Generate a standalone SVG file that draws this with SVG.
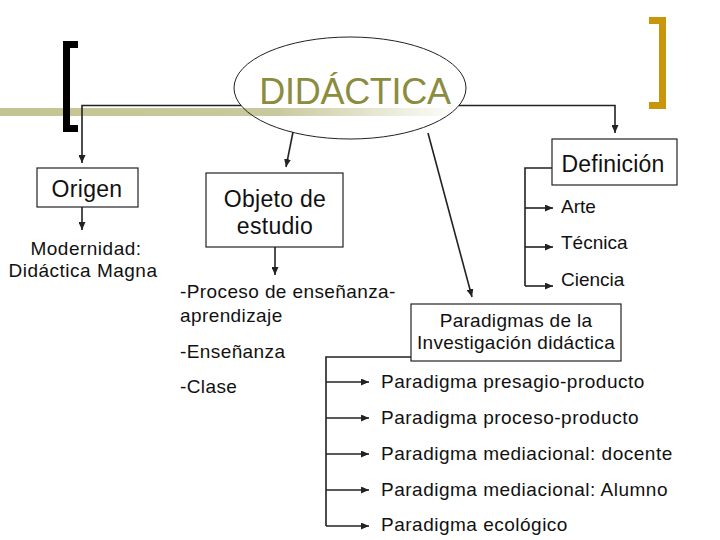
<svg xmlns="http://www.w3.org/2000/svg" width="720" height="540" viewBox="0 0 720 540">
<defs>
<linearGradient id="bar" x1="0" y1="0" x2="460" y2="0" gradientUnits="userSpaceOnUse">
<stop offset="0" stop-color="#c4c492"/>
<stop offset="0.6" stop-color="#c9c99e"/>
<stop offset="1" stop-color="#ffffff"/>
</linearGradient>
<marker id="ah" markerUnits="userSpaceOnUse" markerWidth="9" markerHeight="7" refX="8" refY="3.5" orient="auto">
<path d="M0,0 L8,3.5 L0,7 z" fill="#222"/>
</marker>
<style>
text{font-family:"Liberation Sans",Arial,sans-serif;fill:#111;}
.big{font-size:23px;letter-spacing:0.3px;}
.mid{font-size:19px;letter-spacing:0.5px;}
.sm{font-size:19px;}
.box{fill:#fff;stroke:#222;stroke-width:1.2;}
.c{fill:none;stroke:#222;stroke-width:1.6;}
</style>
</defs>
<rect width="720" height="540" fill="#fff"/>
<rect x="0" y="108" width="460" height="8" fill="url(#bar)"/>
<path d="M78 44.5 H66.5 V128.5 H78" fill="none" stroke="#000" stroke-width="7"/>
<path d="M649 20.5 H662.5 V105.5 H649" fill="none" stroke="#c8960c" stroke-width="7"/>

<g id="connectors">
<path class="c" d="M241 105.5 H82 V163" marker-end="url(#ah)"/>
<path class="c" d="M459 105.5 H615 V133" marker-end="url(#ah)"/>
<path class="c" d="M293 132 L286 167" marker-end="url(#ah)"/>
<path class="c" d="M428 133 L472 297" marker-end="url(#ah)"/>
<path class="c" d="M82 207 V230" marker-end="url(#ah)"/>
<path class="c" d="M275 247 V275" marker-end="url(#ah)"/>
<path class="c" d="M552 168 H525 V286"/>
<path class="c" d="M525 208 H553" marker-end="url(#ah)"/>
<path class="c" d="M525 247 H553" marker-end="url(#ah)"/>
<path class="c" d="M525 286 H553" marker-end="url(#ah)"/>
<path class="c" d="M411 357 H326 V526"/>
<path class="c" d="M326 382 H369" marker-end="url(#ah)"/>
<path class="c" d="M326 418 H369" marker-end="url(#ah)"/>
<path class="c" d="M326 454 H369" marker-end="url(#ah)"/>
<path class="c" d="M326 490 H369" marker-end="url(#ah)"/>
<path class="c" d="M326 526 H369" marker-end="url(#ah)"/>
</g>

<g id="didactica">
<ellipse cx="350" cy="88" rx="116" ry="51" fill="none" stroke="#222" stroke-width="1"/>
<text x="355" y="104" text-anchor="middle" style="font-size:36px;fill:#8c8c3e;letter-spacing:-0.3px">DIDÁCTICA</text>
</g>

<g id="origen">
<rect class="box" x="37" y="168" width="101" height="39"/>
<text class="big" x="87" y="197" text-anchor="middle">Origen</text>
</g>
<g id="modernidad">
<text class="mid" x="86" y="255" text-anchor="middle">Modernidad:</text>
<text class="mid" x="83" y="277" text-anchor="middle">Didáctica Magna</text>
</g>

<g id="objeto">
<rect class="box" x="206" y="173" width="137" height="74"/>
<text class="big" x="275" y="207" text-anchor="middle">Objeto de</text>
<text class="big" x="275" y="234" text-anchor="middle">estudio</text>
</g>
<g id="objeto-items">
<text class="sm" x="180" y="298" style="letter-spacing:0.4px">-Proceso de enseñanza-</text>
<text class="sm" x="180" y="322" style="letter-spacing:0.4px">aprendizaje</text>
<text class="sm" x="180" y="358" style="letter-spacing:0.4px">-Enseñanza</text>
<text class="sm" x="180" y="393" style="letter-spacing:0.4px">-Clase</text>
</g>

<g id="definicion">
<rect class="box" x="552" y="139" width="125" height="46"/>
<text class="big" x="613" y="172" text-anchor="middle" style="letter-spacing:0.2px">Definición</text>
</g>
<g id="definicion-items">
<text class="sm" x="561" y="213">Arte</text>
<text class="sm" x="561" y="249">Técnica</text>
<text class="sm" x="561" y="286">Ciencia</text>
</g>

<g id="paradigmas">
<rect class="box" x="411" y="304" width="210" height="57"/>
<text class="sm" x="516" y="327" text-anchor="middle" style="letter-spacing:0.3px">Paradigmas de la</text>
<text class="sm" x="516" y="349" text-anchor="middle" style="letter-spacing:0.3px">Investigación didáctica</text>
</g>
<g id="paradigma-items">
<text class="mid" x="381" y="388">Paradigma presagio-producto</text>
<text class="mid" x="381" y="424">Paradigma proceso-producto</text>
<text class="mid" x="381" y="460">Paradigma mediacional: docente</text>
<text class="mid" x="381" y="496">Paradigma mediacional: Alumno</text>
<text class="mid" x="381" y="531">Paradigma ecológico</text>
</g>
</svg>
